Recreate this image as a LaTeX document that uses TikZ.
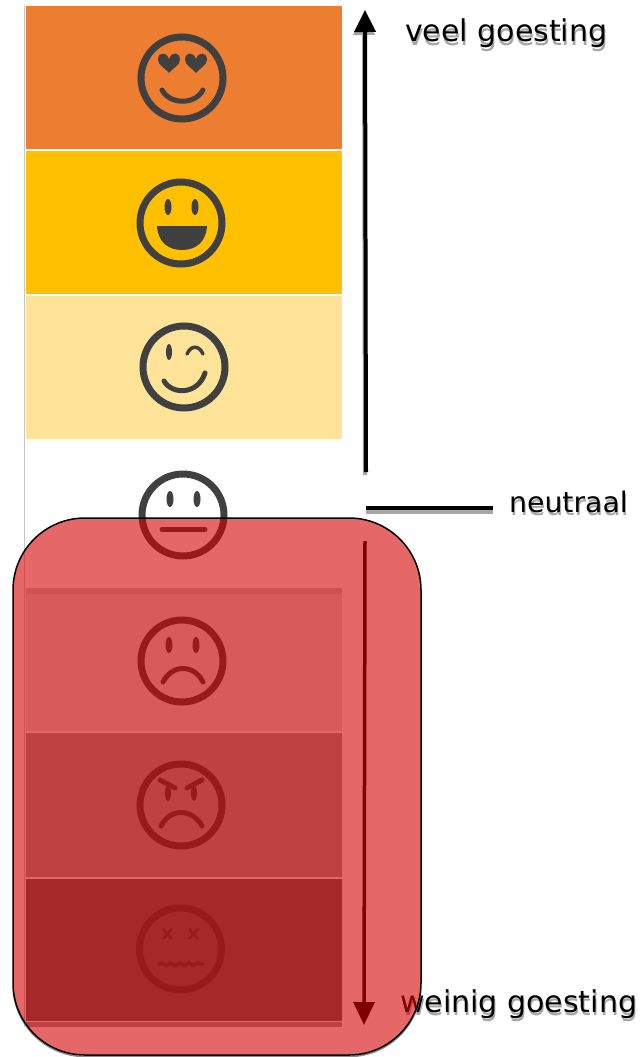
\documentclass[tikz,border=0pt]{standalone}
\usepackage{fontspec}
\setmainfont{DejaVu Sans}
\usetikzlibrary{arrows.meta,decorations.pathmorphing}
\definecolor{oranje}{HTML}{ED7D31}
\definecolor{geel}{HTML}{FFC000}
\definecolor{lichtgeel}{HTML}{FEE398}
\definecolor{gezicht}{HTML}{404040}
\definecolor{rood}{RGB}{213,2,2}

\begin{document}
\begin{tikzpicture}[x=1pt,y=-1pt]
              \tikzstyle{every node}+=[inner sep=0pt]
              \tikzstyle{band}=[minimum width=316pt,anchor=north west,rectangle]
              \tikzstyle{face}=[circle,draw=gezicht,line width=7pt,minimum size=82pt]
              \tikzstyle{trek}=[draw=gezicht,line width=5pt,line cap=round]
              \tikzstyle{oog}=[fill=gezicht]
              \tikzstyle{label}=[anchor=base west,font=\fontsize{30}{30}\selectfont]
              \tikzstyle{kleinlabel}=[anchor=base west,font=\fontsize{28.3}{30}\selectfont]
              \tikzstyle{schaduw}=[text=black!35]
              \tikzstyle{vlak}=[rectangle,rounded corners=72pt,minimum width=408pt,minimum height=537pt]
              \useasboundingbox (0,0) rectangle (643,1057);
              \draw [black!22,line width=1pt] (24,6) -- (24,1027);
              % vlakken
              \node [band,minimum height=143pt,fill=oranje] (band1) at (26,6) {};
              \node [band,minimum height=143pt,fill=geel] (band2) at (26,151) {};
              \node [band,minimum height=143pt,fill=lichtgeel] (band3) at (26,296) {};
              \node [band,minimum height=6pt,fill=black!21] (strook1) at (26,588) {};
              \node [band,minimum height=137pt,fill=black!13] (band5) at (26,594) {};
              \node [band,minimum height=144pt,fill=black!37] (band6) at (26,733) {};
              \node [band,minimum height=142pt,fill=black!62] (band7) at (26,879) {};
              \node [band,minimum height=5pt,fill=black!37] (strook2) at (26,1022) {};
              % gezichten
              \node [face] (gezicht1) at (182,78) {};
              \node [face] (gezicht2) at (181,223) {};
              \node [face] (gezicht3) at (184,367) {};
              \node [face] (gezicht4) at (183,515) {};
              \node [face] (gezicht5) at (182,661) {};
              \node [face] (gezicht6) at (181,805) {};
              \node [face] (gezicht7) at (180.5,949) {};
              % gezicht 1
              \fill [gezicht] (169,59) .. controls (166,51) and (158,52) .. (158,60) .. controls (158,65) and (165,68) .. (169,73) .. controls (173,68) and (180,65) .. (180,60) .. controls (180,52) and (172,51) .. (169,59);
              \fill [gezicht] (196,59) .. controls (193,51) and (185,52) .. (185,60) .. controls (185,65) and (192,68) .. (196,73) .. controls (200,68) and (207,65) .. (207,60) .. controls (207,52) and (199,51) .. (196,59);
              \draw [trek] (162,90) .. controls (170,105) and (195,105) .. (203,90);
              % gezicht 2
              \fill [oog] (168,207) ellipse (3.5 and 8);
              \fill [oog] (195,207) ellipse (3.5 and 8);
              \fill [gezicht] (157,226) -- (207,226) .. controls (206,242) and (196,250) .. (182,250) .. controls (168,250) and (158,242) .. (157,226) -- cycle;
              % gezicht 3
              \fill [oog] (169,352) ellipse (3 and 8);
              \draw [trek,line width=3.5pt] (187,354) .. controls (191,345) and (199,345) .. (203,354);
              \draw [trek] (164,381) .. controls (172,395) and (198,395) .. (205,373);
              % gezicht 4
              \fill [oog] (170,499) ellipse (3.5 and 8);
              \fill [oog] (197,499) ellipse (3.5 and 8);
              \draw [trek] (162,529.5) -- (205,529.5);
              % gezicht 5
              \fill [oog] (169,645) ellipse (3.5 and 8);
              \fill [oog] (196,645) ellipse (3.5 and 8);
              \draw [trek] (163,682) .. controls (172,664) and (194,664) .. (203,682);
              % gezicht 6
              \fill [oog] (168,793) ellipse (3 and 8);
              \fill [oog] (194,793) ellipse (3 and 8);
              \draw [trek] (160,780) -- (175,788);
              \draw [trek] (202,780) -- (187,788);
              \draw [trek] (161,826) .. controls (170,808) and (192,808) .. (202,826);
              % gezicht 7
              \draw [gezicht,line width=2.5pt] (163,929) -- (172,939);
              \draw [gezicht,line width=2.5pt] (172,929) -- (163,939);
              \draw [gezicht,line width=2.5pt] (189,929) -- (198,939);
              \draw [gezicht,line width=2.5pt] (198,929) -- (189,939);
              \draw [trek,line width=3.5pt,decorate,decoration={snake,amplitude=1.3pt,segment length=9pt}] (159,964.5) -- (203,964);
              % pijlen
              \coordinate (pijl1a) at (366,472);
              \coordinate (pijl1b) at (365,10);
              \coordinate (pijl1c) at (365,475);
              \coordinate (pijl1d) at (364,13);
              \coordinate (lijna) at (366,508);
              \coordinate (lijnb) at (493,508);
              \coordinate (lijnc) at (366,512);
              \coordinate (lijnd) at (493,512);
              \coordinate (pijl2a) at (365,541);
              \coordinate (pijl2b) at (364,1025);
              \draw [black!35,line width=4pt,-{Triangle[width=21pt,length=22pt]}] (pijl1c) -- (pijl1d);
              \draw [black,line width=4pt,-{Triangle[width=21pt,length=22pt]}] (pijl1a) -- (pijl1b);
              \draw [black!35,line width=4pt] (lijnc) -- (lijnd);
              \draw [black,line width=4.5pt] (lijna) -- (lijnb);
              \draw [black,line width=3.5pt,-{Triangle[width=21pt,length=23pt]}] (pijl2a) -- (pijl2b);
              % teksten
              \node [label,schaduw] (veelschaduw) at (406,45.5) {veel goesting};
              \node [label] (veel) at (405,42) {veel goesting};
              \node [kleinlabel,schaduw] (neutraalschaduw) at (510,515.5) {neutraal};
              \node [kleinlabel] (neutraal) at (509,512) {neutraal};
              \node [label,schaduw] (weinigschaduw) at (401,1015.5) {weinig goesting};
              \node [label] (weinig) at (400,1012) {weinig goesting};
              % rood vlak
              \begin{scope}
              \clip (0,990) rectangle (643,1057);
              \node [vlak,draw=black!45,line width=1.5pt] (vlakschaduw) at (217,788) {};
              \end{scope}
              \node [vlak,draw=black,line width=1.5pt,fill=rood,fill opacity=0.6] (rodevlak) at (217,786.5) {};
\end{tikzpicture}
\end{document}
